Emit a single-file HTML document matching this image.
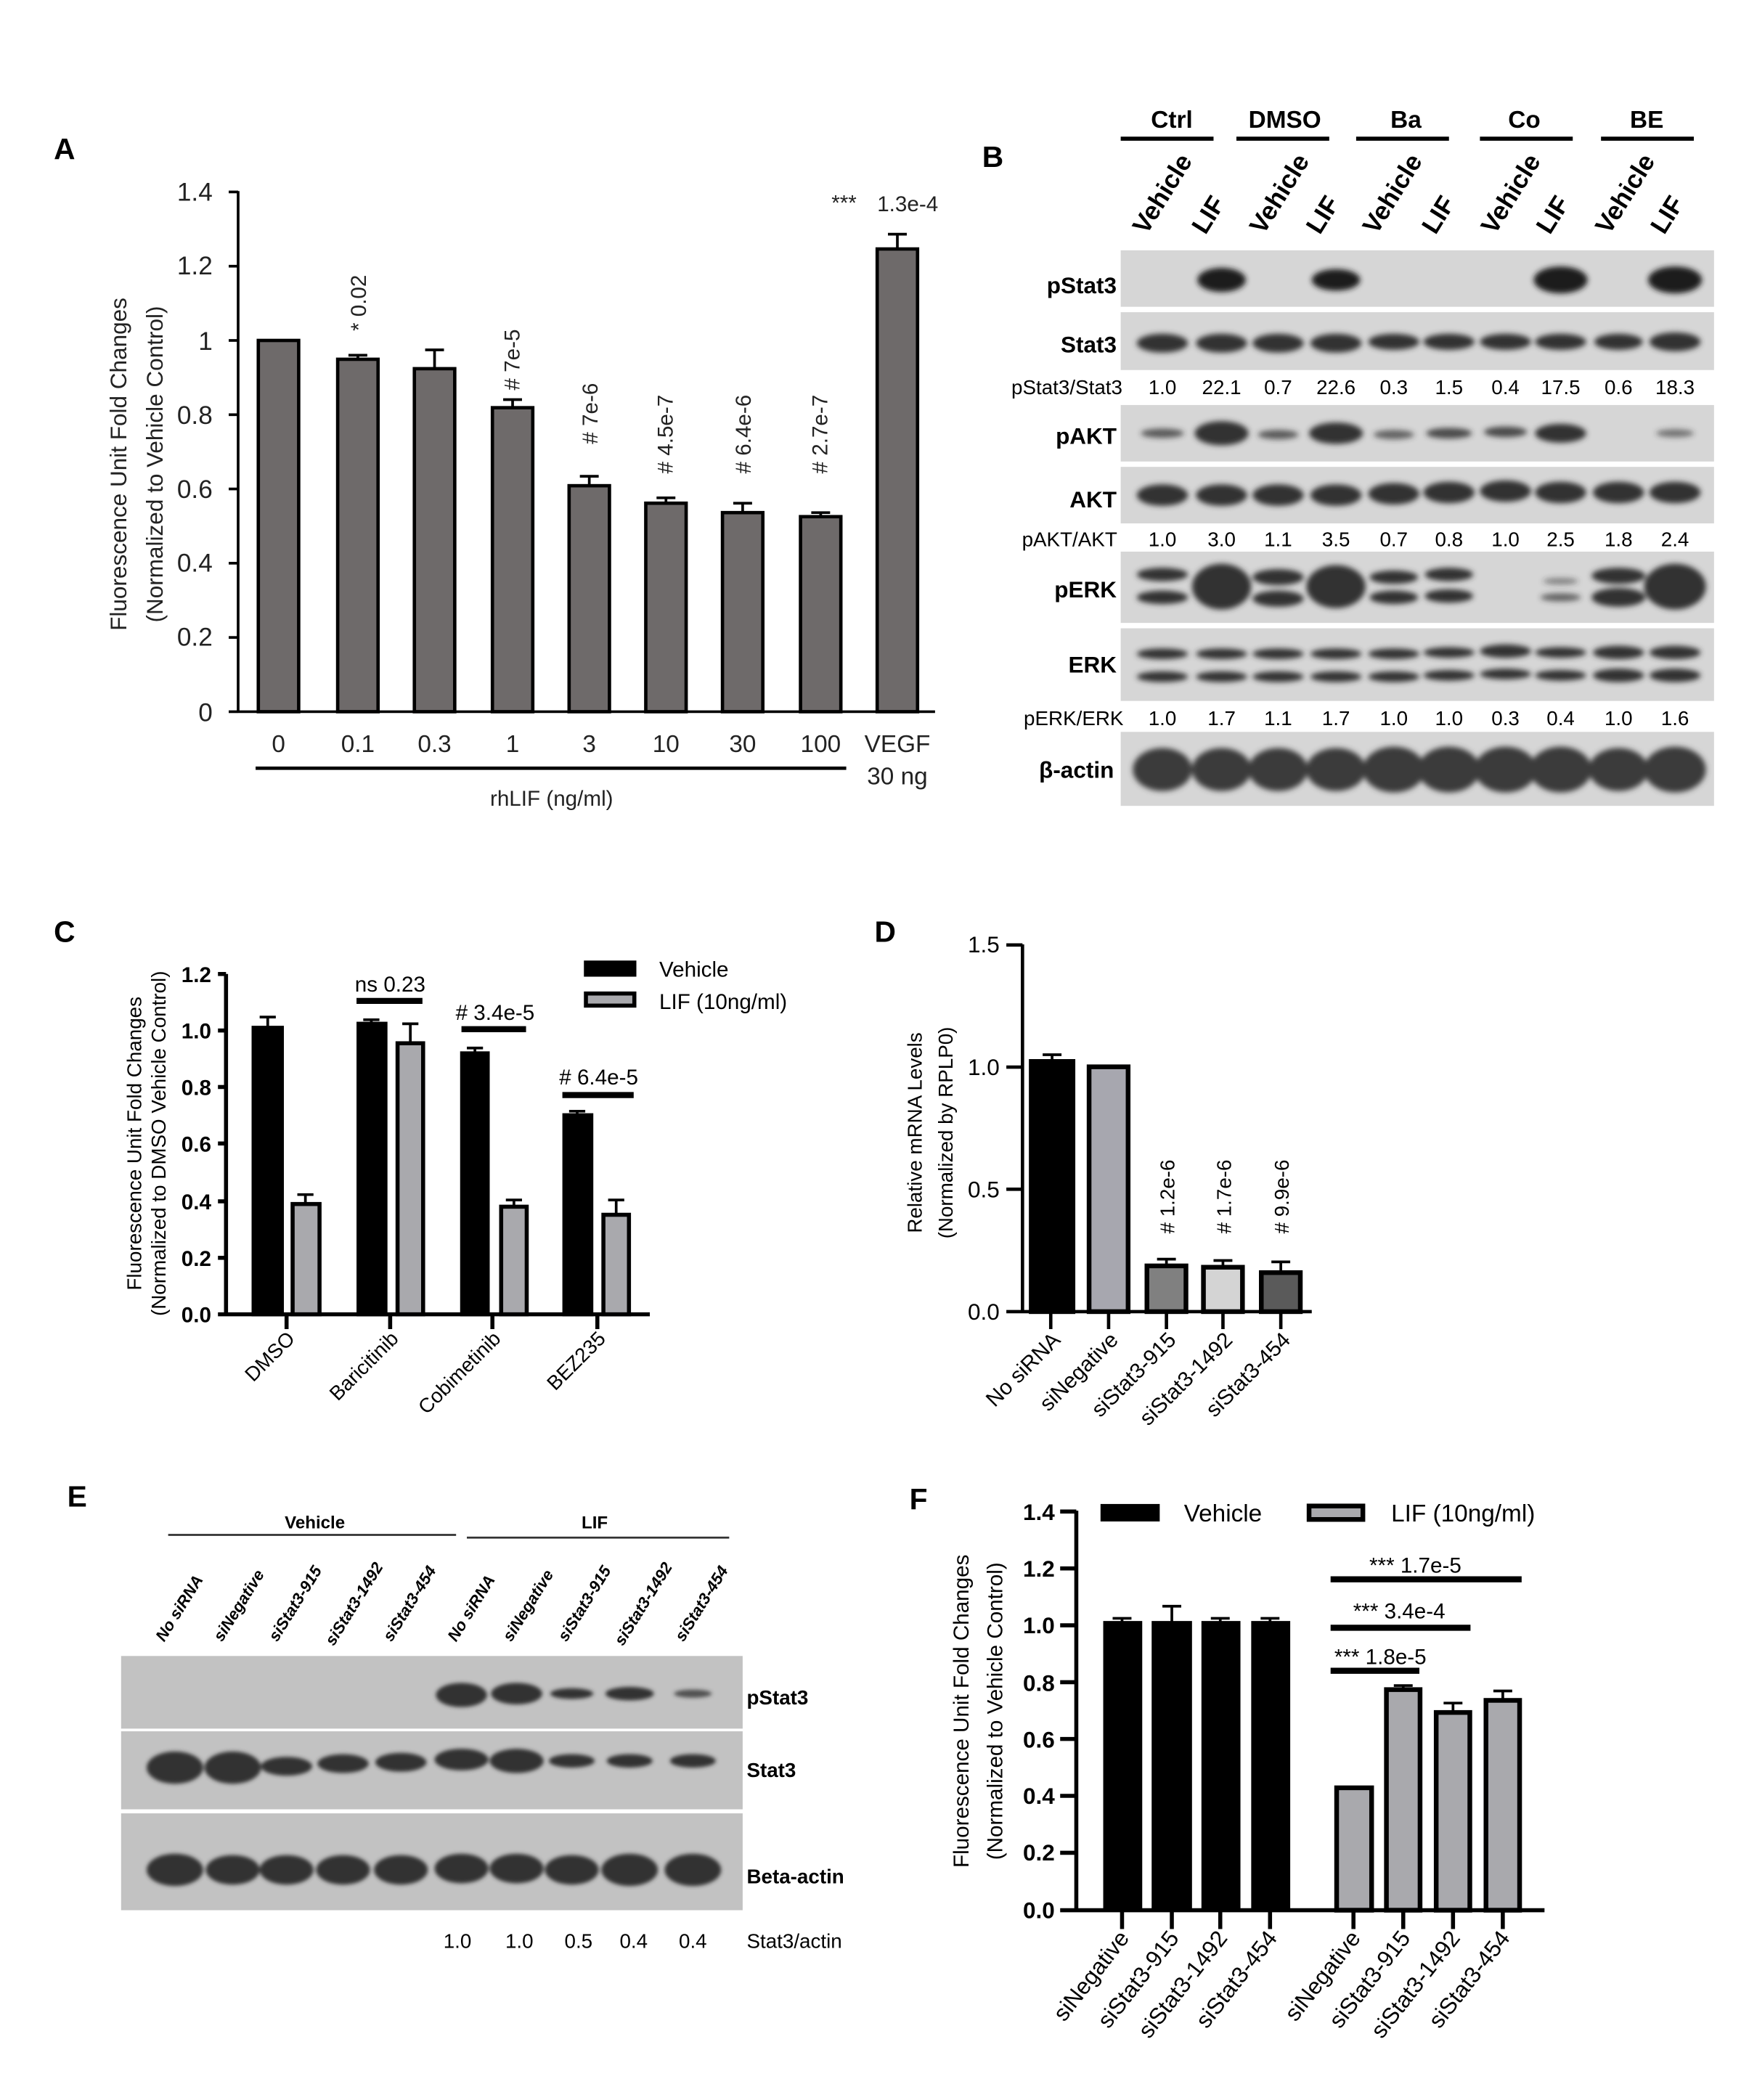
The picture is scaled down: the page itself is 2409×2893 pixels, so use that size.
<!DOCTYPE html>
<html><head><meta charset="utf-8"><style>html,body{margin:0;padding:0;background:#fff}svg{display:block}</style></head>
<body>
<svg width="2409" height="2893" viewBox="0 0 1300 1561" xmlns="http://www.w3.org/2000/svg" font-family="Liberation Sans, Arial, sans-serif">
<defs>
<filter id="bl" x="-30%" y="-60%" width="160%" height="220%"><feGaussianBlur stdDeviation="2"/></filter>
<filter id="bl2" x="-30%" y="-60%" width="160%" height="220%"><feGaussianBlur stdDeviation="1.5"/></filter>
</defs>
<rect width="1300" height="1561" fill="#fff"/>

<!-- ===== Panel A ===== -->
<text x="40" y="118" font-size="22" font-weight="bold">A</text>
<g fill="#222">
<line x1="177" y1="142" x2="177" y2="529" stroke="#000" stroke-width="2"/>
<line x1="177" y1="529" x2="695" y2="529" stroke="#000" stroke-width="2"/>
<g stroke="#000" stroke-width="2">
<line x1="170" y1="142.6" x2="177" y2="142.6"/><line x1="170" y1="197.8" x2="177" y2="197.8"/><line x1="170" y1="253" x2="177" y2="253"/><line x1="170" y1="308.2" x2="177" y2="308.2"/><line x1="170" y1="363.4" x2="177" y2="363.4"/><line x1="170" y1="418.6" x2="177" y2="418.6"/><line x1="170" y1="473.8" x2="177" y2="473.8"/><line x1="170" y1="529" x2="177" y2="529"/>
</g>
<g text-anchor="end" font-size="19">
<text x="158" y="149">1.4</text><text x="158" y="204">1.2</text><text x="158" y="260">1</text><text x="158" y="315">0.8</text><text x="158" y="370">0.6</text><text x="158" y="425">0.4</text><text x="158" y="480">0.2</text><text x="158" y="536">0</text>
</g>
<text transform="translate(94,345) rotate(-90)" text-anchor="middle" font-size="17">Fluorescence Unit Fold Changes</text>
<text transform="translate(121,345) rotate(-90)" text-anchor="middle" font-size="17">(Normalized to Vehicle Control)</text>
<g fill="#6e6a6a" stroke="#000" stroke-width="2.5">
<rect x="192" y="253" width="30" height="276"/>
<rect x="251" y="267" width="30" height="262"/>
<rect x="308" y="274" width="30" height="255"/>
<rect x="366" y="303" width="30" height="226"/>
<rect x="423" y="361" width="30" height="168"/>
<rect x="480" y="374" width="30" height="155"/>
<rect x="537" y="381" width="30" height="148"/>
<rect x="595" y="384" width="30" height="145"/>
<rect x="652" y="185" width="30" height="344"/>
</g>
<g stroke="#000" stroke-width="2">
<line x1="266" y1="267" x2="266" y2="264"/><line x1="259" y1="264" x2="273" y2="264"/>
<line x1="323" y1="274" x2="323" y2="260"/><line x1="316" y1="260" x2="330" y2="260"/>
<line x1="381" y1="303" x2="381" y2="297"/><line x1="374" y1="297" x2="388" y2="297"/>
<line x1="438" y1="361" x2="438" y2="354"/><line x1="431" y1="354" x2="445" y2="354"/>
<line x1="495" y1="374" x2="495" y2="370"/><line x1="488" y1="370" x2="502" y2="370"/>
<line x1="552" y1="381" x2="552" y2="374"/><line x1="545" y1="374" x2="559" y2="374"/>
<line x1="610" y1="384" x2="610" y2="381"/><line x1="603" y1="381" x2="617" y2="381"/>
<line x1="667" y1="185" x2="667" y2="174"/><line x1="660" y1="174" x2="674" y2="174"/>
</g>
<g font-size="16">
<text transform="translate(272,246) rotate(-90)">* 0.02</text>
<text transform="translate(386,290) rotate(-90)">#  7e-5</text>
<text transform="translate(444,330) rotate(-90)">#  7e-6</text>
<text transform="translate(500,352) rotate(-90)"># 4.5e-7</text>
<text transform="translate(558,352) rotate(-90)">#  6.4e-6</text>
<text transform="translate(615,352) rotate(-90)">#  2.7e-7</text>
<text x="618" y="156">***</text><text x="652" y="157">1.3e-4</text>
</g>
<g text-anchor="middle" font-size="18">
<text x="207" y="559">0</text><text x="266" y="559">0.1</text><text x="323" y="559">0.3</text><text x="381" y="559">1</text><text x="438" y="559">3</text><text x="495" y="559">10</text><text x="552" y="559">30</text><text x="610" y="559">100</text><text x="667" y="559">VEGF</text><text x="667" y="583">30 ng</text>
</g>
<line x1="190" y1="571" x2="629" y2="571" stroke="#000" stroke-width="2.5"/>
<text x="410" y="599" text-anchor="middle" font-size="16">rhLIF (ng/ml)</text>
</g>

<!-- ===== Panel B ===== -->
<text x="730" y="124" font-size="22" font-weight="bold">B</text>
<g font-size="18" font-weight="bold" text-anchor="middle">
<text x="871" y="95">Ctrl</text><text x="955" y="95">DMSO</text><text x="1045" y="95">Ba</text><text x="1133" y="95">Co</text><text x="1224" y="95">BE</text>
</g>
<g stroke="#000" stroke-width="3">
<line x1="833" y1="103" x2="902" y2="103"/><line x1="919" y1="103" x2="988" y2="103"/><line x1="1008" y1="103" x2="1077" y2="103"/><line x1="1100" y1="103" x2="1169" y2="103"/><line x1="1190" y1="103" x2="1259" y2="103"/>
</g>
<g font-size="19" font-weight="bold">
<text transform="translate(852,175) rotate(-58)">Vehicle</text><text transform="translate(896,175) rotate(-58)">LIF</text>
<text transform="translate(939,175) rotate(-58)">Vehicle</text><text transform="translate(981,175) rotate(-58)">LIF</text>
<text transform="translate(1023,175) rotate(-58)">Vehicle</text><text transform="translate(1067,175) rotate(-58)">LIF</text>
<text transform="translate(1111,175) rotate(-58)">Vehicle</text><text transform="translate(1152,175) rotate(-58)">LIF</text>
<text transform="translate(1196,175) rotate(-58)">Vehicle</text><text transform="translate(1237,175) rotate(-58)">LIF</text>
</g>
<g fill="#d6d6d6">
<rect x="833" y="186" width="441" height="42"/>
<rect x="833" y="232" width="441" height="43"/>
<rect x="833" y="301" width="441" height="42"/>
<rect x="833" y="347" width="441" height="42"/>
<rect x="833" y="410" width="441" height="53"/>
<rect x="833" y="467" width="441" height="54"/>
<rect x="833" y="544" width="441" height="55"/>
</g>
<g fill="#1c1c1c" filter="url(#bl)">
<ellipse cx="908" cy="208" rx="18" ry="9"/><ellipse cx="993" cy="208" rx="18" ry="8"/><ellipse cx="1160" cy="208" rx="20" ry="10"/><ellipse cx="1245" cy="208" rx="20" ry="10"/>
</g>
<g fill="#333" filter="url(#bl)">
<ellipse cx="864" cy="255" rx="19" ry="7"/><ellipse cx="908" cy="255" rx="19" ry="7"/><ellipse cx="950" cy="255" rx="19" ry="7"/><ellipse cx="993" cy="255" rx="19" ry="7"/><ellipse cx="1036" cy="254" rx="19" ry="6"/><ellipse cx="1077" cy="254" rx="19" ry="6"/><ellipse cx="1119" cy="254" rx="19" ry="6"/><ellipse cx="1160" cy="254" rx="19" ry="6"/><ellipse cx="1203" cy="254" rx="18" ry="6"/><ellipse cx="1245" cy="254" rx="19" ry="7"/>
<ellipse cx="864" cy="322" rx="16" ry="3.5" opacity="0.75"/><ellipse cx="908" cy="322" rx="20" ry="9"/><ellipse cx="950" cy="323" rx="15" ry="3.5" opacity="0.75"/><ellipse cx="993" cy="322" rx="20" ry="8"/><ellipse cx="1036" cy="323" rx="15" ry="3.5" opacity="0.7"/><ellipse cx="1077" cy="322" rx="17" ry="4" opacity="0.85"/><ellipse cx="1119" cy="321" rx="16" ry="4" opacity="0.85"/><ellipse cx="1160" cy="322" rx="19" ry="7"/><ellipse cx="1245" cy="322" rx="14" ry="3" opacity="0.6"/>
<ellipse cx="864" cy="368" rx="19" ry="8"/><ellipse cx="908" cy="368" rx="19" ry="8"/><ellipse cx="950" cy="368" rx="19" ry="8"/><ellipse cx="993" cy="368" rx="19" ry="8"/><ellipse cx="1036" cy="367" rx="19" ry="8"/><ellipse cx="1077" cy="366" rx="19" ry="8"/><ellipse cx="1119" cy="365" rx="19" ry="8"/><ellipse cx="1160" cy="366" rx="19" ry="8"/><ellipse cx="1203" cy="366" rx="19" ry="8"/><ellipse cx="1245" cy="366" rx="19" ry="8"/>
<ellipse cx="864" cy="427" rx="19" ry="5"/><ellipse cx="864" cy="444" rx="19" ry="5"/><ellipse cx="908" cy="436" rx="22" ry="17"/><ellipse cx="950" cy="429" rx="19" ry="6"/><ellipse cx="950" cy="445" rx="19" ry="6"/><ellipse cx="993" cy="436" rx="22" ry="16"/><ellipse cx="1036" cy="429" rx="18" ry="5"/><ellipse cx="1036" cy="444" rx="18" ry="5"/><ellipse cx="1077" cy="427" rx="18" ry="5"/><ellipse cx="1077" cy="443" rx="18" ry="5"/><ellipse cx="1160" cy="432" rx="13" ry="2.5" opacity="0.5"/><ellipse cx="1160" cy="444" rx="15" ry="3" opacity="0.7"/><ellipse cx="1203" cy="428" rx="20" ry="6"/><ellipse cx="1203" cy="444" rx="20" ry="7"/><ellipse cx="1245" cy="436" rx="23" ry="17"/>
<ellipse cx="864" cy="486" rx="19" ry="4"/><ellipse cx="864" cy="503" rx="19" ry="4"/><ellipse cx="908" cy="486" rx="19" ry="4"/><ellipse cx="908" cy="503" rx="19" ry="4"/><ellipse cx="950" cy="486" rx="19" ry="4"/><ellipse cx="950" cy="503" rx="19" ry="4"/><ellipse cx="993" cy="486" rx="19" ry="4"/><ellipse cx="993" cy="503" rx="19" ry="4"/><ellipse cx="1036" cy="486" rx="19" ry="4"/><ellipse cx="1036" cy="503" rx="19" ry="4"/><ellipse cx="1077" cy="485" rx="19" ry="4"/><ellipse cx="1077" cy="502" rx="19" ry="4"/><ellipse cx="1119" cy="484" rx="19" ry="5"/><ellipse cx="1119" cy="501" rx="19" ry="4"/><ellipse cx="1160" cy="485" rx="19" ry="4"/><ellipse cx="1160" cy="502" rx="19" ry="4"/><ellipse cx="1203" cy="485" rx="19" ry="5"/><ellipse cx="1203" cy="502" rx="19" ry="5"/><ellipse cx="1245" cy="485" rx="19" ry="5"/><ellipse cx="1245" cy="502" rx="19" ry="5"/>
</g>
<g fill="#3a3a3a" filter="url(#bl)">
<ellipse cx="864" cy="572" rx="22" ry="16"/><ellipse cx="908" cy="572" rx="22" ry="16"/><ellipse cx="950" cy="572" rx="22" ry="16"/><ellipse cx="993" cy="572" rx="22" ry="16"/><ellipse cx="1036" cy="572" rx="23" ry="17"/><ellipse cx="1077" cy="572" rx="23" ry="17"/><ellipse cx="1119" cy="572" rx="23" ry="17"/><ellipse cx="1160" cy="572" rx="23" ry="17"/><ellipse cx="1203" cy="572" rx="22" ry="16"/><ellipse cx="1245" cy="572" rx="23" ry="17"/>
</g>
<g font-size="17" font-weight="bold" text-anchor="end">
<text x="830" y="218">pStat3</text><text x="830" y="262">Stat3</text><text x="830" y="330">pAKT</text><text x="830" y="377">AKT</text><text x="830" y="444">pERK</text><text x="830" y="500">ERK</text><text x="828" y="578">β-actin</text>
</g>
<g font-size="15" text-anchor="middle">
<text x="793" y="293">pStat3/Stat3</text><text x="864" y="293">1.0</text><text x="908" y="293">22.1</text><text x="950" y="293">0.7</text><text x="993" y="293">22.6</text><text x="1036" y="293">0.3</text><text x="1077" y="293">1.5</text><text x="1119" y="293">0.4</text><text x="1160" y="293">17.5</text><text x="1203" y="293">0.6</text><text x="1245" y="293">18.3</text>
<text x="795" y="406">pAKT/AKT</text><text x="864" y="406">1.0</text><text x="908" y="406">3.0</text><text x="950" y="406">1.1</text><text x="993" y="406">3.5</text><text x="1036" y="406">0.7</text><text x="1077" y="406">0.8</text><text x="1119" y="406">1.0</text><text x="1160" y="406">2.5</text><text x="1203" y="406">1.8</text><text x="1245" y="406">2.4</text>
<text x="798" y="539">pERK/ERK</text><text x="864" y="539">1.0</text><text x="908" y="539">1.7</text><text x="950" y="539">1.1</text><text x="993" y="539">1.7</text><text x="1036" y="539">1.0</text><text x="1077" y="539">1.0</text><text x="1119" y="539">0.3</text><text x="1160" y="539">0.4</text><text x="1203" y="539">1.0</text><text x="1245" y="539">1.6</text>
</g>

<!-- ===== Panel C ===== -->
<text x="40" y="700" font-size="22" font-weight="bold">C</text>
<line x1="168" y1="724" x2="168" y2="977" stroke="#000" stroke-width="3"/>
<line x1="162" y1="977" x2="483" y2="977" stroke="#000" stroke-width="3"/>
<g stroke="#000" stroke-width="3">
<line x1="162" y1="724" x2="168" y2="724"/><line x1="162" y1="766" x2="168" y2="766"/><line x1="162" y1="808" x2="168" y2="808"/><line x1="162" y1="850" x2="168" y2="850"/><line x1="162" y1="893" x2="168" y2="893"/><line x1="162" y1="935" x2="168" y2="935"/>
<line x1="213" y1="977" x2="213" y2="988"/><line x1="290" y1="977" x2="290" y2="988"/><line x1="366" y1="977" x2="366" y2="988"/><line x1="444" y1="977" x2="444" y2="988"/>
</g>
<g font-size="16" font-weight="bold" text-anchor="end">
<text x="157" y="730">1.2</text><text x="157" y="772">1.0</text><text x="157" y="814">0.8</text><text x="157" y="856">0.6</text><text x="157" y="899">0.4</text><text x="157" y="941">0.2</text><text x="157" y="983">0.0</text>
</g>
<text transform="translate(105,850) rotate(-90)" text-anchor="middle" font-size="15">Fluorescence Unit Fold Changes</text>
<text transform="translate(123,850) rotate(-90)" text-anchor="middle" font-size="15">(Normalized to DMSO Vehicle Control)</text>
<g stroke="#000" stroke-width="3">
<rect x="188.5" y="764" width="21" height="213" fill="#000"/>
<rect x="217.5" y="895" width="20" height="82" fill="#a9a9ad"/>
<rect x="266.5" y="761" width="20" height="216" fill="#000"/>
<rect x="295.5" y="775.5" width="19" height="201.5" fill="#a9a9ad"/>
<rect x="343.5" y="783" width="19" height="194" fill="#000"/>
<rect x="372.5" y="897" width="19" height="80" fill="#a9a9ad"/>
<rect x="419.5" y="829" width="20" height="148" fill="#000"/>
<rect x="448.5" y="903" width="19" height="74" fill="#a9a9ad"/>
</g>
<g stroke="#000" stroke-width="2">
<line x1="199" y1="764" x2="199" y2="756"/><line x1="193" y1="756" x2="205" y2="756"/>
<line x1="227" y1="895" x2="227" y2="888"/><line x1="221" y1="888" x2="233" y2="888"/>
<line x1="276" y1="761" x2="276" y2="758"/><line x1="270" y1="758" x2="282" y2="758"/>
<line x1="305" y1="775" x2="305" y2="761"/><line x1="299" y1="761" x2="311" y2="761"/>
<line x1="353" y1="783" x2="353" y2="779"/><line x1="347" y1="779" x2="359" y2="779"/>
<line x1="382" y1="897" x2="382" y2="892"/><line x1="376" y1="892" x2="388" y2="892"/>
<line x1="429" y1="829" x2="429" y2="826"/><line x1="423" y1="826" x2="435" y2="826"/>
<line x1="458" y1="903" x2="458" y2="892"/><line x1="452" y1="892" x2="464" y2="892"/>
</g>
<g stroke="#000" stroke-width="4.5">
<line x1="265" y1="744" x2="314" y2="744"/><line x1="343" y1="765" x2="391" y2="765"/><line x1="418" y1="814" x2="471" y2="814"/>
</g>
<g font-size="16" text-anchor="middle">
<text x="290" y="737">ns 0.23</text><text x="368" y="758"># 3.4e-5</text><text x="445" y="806"># 6.4e-5</text>
</g>
<rect x="434" y="714" width="39" height="12" fill="#000"/>
<rect x="435.5" y="738.5" width="36" height="9" fill="#a9a9ad" stroke="#000" stroke-width="3"/>
<text x="490" y="726" font-size="16">Vehicle</text>
<text x="490" y="750" font-size="16">LIF (10ng/ml)</text>
<g font-size="15" text-anchor="end">
<text transform="translate(220,996) rotate(-45)">DMSO</text>
<text transform="translate(297,996) rotate(-45)">Baricitinib</text>
<text transform="translate(373,996) rotate(-45)">Cobimetinib</text>
<text transform="translate(451,996) rotate(-45)">BEZ235</text>
</g>

<!-- ===== Panel D ===== -->
<text x="650" y="700" font-size="22" font-weight="bold">D</text>
<line x1="760" y1="702" x2="760" y2="975" stroke="#000" stroke-width="2.5"/>
<line x1="748" y1="975" x2="975" y2="975" stroke="#000" stroke-width="2.5"/>
<g stroke="#000" stroke-width="2.5">
<line x1="748" y1="702.4" x2="760" y2="702.4"/><line x1="748" y1="793.2" x2="760" y2="793.2"/><line x1="748" y1="884" x2="760" y2="884"/>
<line x1="781" y1="975" x2="781" y2="988"/><line x1="824" y1="975" x2="824" y2="988"/><line x1="867" y1="975" x2="867" y2="988"/><line x1="909" y1="975" x2="909" y2="988"/><line x1="952" y1="975" x2="952" y2="988"/>
</g>
<g font-size="17" text-anchor="end">
<text x="743" y="708">1.5</text><text x="743" y="799">1.0</text><text x="743" y="890">0.5</text><text x="743" y="981">0.0</text>
</g>
<text transform="translate(685,842) rotate(-90)" text-anchor="middle" font-size="15">Relative mRNA Levels</text>
<text transform="translate(708,842) rotate(-90)" text-anchor="middle" font-size="15">(Normalized by RPLP0)</text>
<g stroke="#000" stroke-width="3.5">
<rect x="766.5" y="789" width="31" height="186" fill="#000"/>
<rect x="809.5" y="793" width="29" height="182" fill="#a7a7af"/>
<rect x="852.5" y="941" width="29" height="34" fill="#808080"/>
<rect x="894.5" y="942" width="29" height="33" fill="#d4d4d4"/>
<rect x="937.5" y="946" width="29" height="29" fill="#5a5a5a"/>
</g>
<g stroke="#000" stroke-width="2">
<line x1="782" y1="789" x2="782" y2="784"/><line x1="775" y1="784" x2="789" y2="784"/>
<line x1="867" y1="941" x2="867" y2="936"/><line x1="860" y1="936" x2="874" y2="936"/>
<line x1="909" y1="942" x2="909" y2="937"/><line x1="902" y1="937" x2="916" y2="937"/>
<line x1="952" y1="946" x2="952" y2="938"/><line x1="945" y1="938" x2="959" y2="938"/>
</g>
<g font-size="15">
<text transform="translate(873,917) rotate(-90)"># 1.2e-6</text>
<text transform="translate(915,917) rotate(-90)"># 1.7e-6</text>
<text transform="translate(958,917) rotate(-90)"># 9.9e-6</text>
</g>
<g font-size="16" text-anchor="end">
<text transform="translate(789,997) rotate(-45)">No siRNA</text>
<text transform="translate(832,997) rotate(-45)">siNegative</text>
<text transform="translate(875,997) rotate(-45)">siStat3-915</text>
<text transform="translate(917,997) rotate(-45)">siStat3-1492</text>
<text transform="translate(960,997) rotate(-45)">siStat3-454</text>
</g>

<!-- ===== Panel E ===== -->
<text x="50" y="1120" font-size="22" font-weight="bold">E</text>
<text x="234" y="1136" font-size="13" font-weight="bold" text-anchor="middle">Vehicle</text>
<text x="442" y="1136" font-size="13" font-weight="bold" text-anchor="middle">LIF</text>
<line x1="125" y1="1141" x2="339" y2="1141" stroke="#333" stroke-width="1.5"/>
<line x1="347" y1="1143" x2="542" y2="1143" stroke="#333" stroke-width="1.5"/>
<g font-size="12" font-weight="bold" font-style="italic">
<text transform="translate(122,1221) rotate(-58)">No siRNA</text>
<text transform="translate(165,1221) rotate(-58)">siNegative</text>
<text transform="translate(206,1221) rotate(-58)">siStat3-915</text>
<text transform="translate(248,1224) rotate(-58)">siStat3-1492</text>
<text transform="translate(291,1221) rotate(-58)">siStat3-454</text>
<text transform="translate(339,1221) rotate(-58)">No siRNA</text>
<text transform="translate(380,1221) rotate(-58)">siNegative</text>
<text transform="translate(421,1221) rotate(-58)">siStat3-915</text>
<text transform="translate(463,1224) rotate(-58)">siStat3-1492</text>
<text transform="translate(508,1221) rotate(-58)">siStat3-454</text>
</g>
<g fill="#c2c2c2">
<rect x="90" y="1231" width="462" height="54"/>
<rect x="90" y="1287" width="462" height="58"/>
<rect x="90" y="1348" width="462" height="72"/>
</g>
<g fill="#333" filter="url(#bl2)">
<ellipse cx="343" cy="1260" rx="19" ry="9"/><ellipse cx="384" cy="1259" rx="19" ry="8"/><ellipse cx="425" cy="1259" rx="16" ry="4"/><ellipse cx="468" cy="1259" rx="18" ry="5"/><ellipse cx="515" cy="1259" rx="14" ry="3" opacity="0.8"/>
<ellipse cx="130" cy="1314" rx="21" ry="12"/><ellipse cx="173" cy="1314" rx="21" ry="12"/><ellipse cx="213" cy="1313" rx="19" ry="7"/><ellipse cx="255" cy="1311" rx="19" ry="7"/><ellipse cx="298" cy="1310" rx="19" ry="7"/><ellipse cx="343" cy="1308" rx="20" ry="8"/><ellipse cx="384" cy="1309" rx="20" ry="9"/><ellipse cx="425" cy="1309" rx="17" ry="5"/><ellipse cx="468" cy="1309" rx="17" ry="5"/><ellipse cx="515" cy="1309" rx="17" ry="5"/>
<ellipse cx="130" cy="1390" rx="21" ry="12"/><ellipse cx="173" cy="1390" rx="20" ry="11"/><ellipse cx="213" cy="1390" rx="20" ry="11"/><ellipse cx="255" cy="1390" rx="20" ry="11"/><ellipse cx="298" cy="1390" rx="20" ry="11"/><ellipse cx="343" cy="1389" rx="20" ry="11"/><ellipse cx="384" cy="1389" rx="20" ry="11"/><ellipse cx="425" cy="1390" rx="20" ry="11"/><ellipse cx="468" cy="1390" rx="21" ry="12"/><ellipse cx="515" cy="1390" rx="21" ry="12"/>
</g>
<g font-size="15" font-weight="bold">
<text x="555" y="1267">pStat3</text><text x="555" y="1321">Stat3</text><text x="555" y="1400">Beta-actin</text>
</g>
<g font-size="15" text-anchor="middle">
<text x="340" y="1448">1.0</text><text x="386" y="1448">1.0</text><text x="430" y="1448">0.5</text><text x="471" y="1448">0.4</text><text x="515" y="1448">0.4</text>
</g>
<text x="555" y="1448" font-size="15">Stat3/actin</text>

<!-- ===== Panel F ===== -->
<text x="676" y="1122" font-size="22" font-weight="bold">F</text>
<line x1="800" y1="1123" x2="800" y2="1420" stroke="#000" stroke-width="3"/>
<line x1="788" y1="1420" x2="1148" y2="1420" stroke="#000" stroke-width="3"/>
<g stroke="#000" stroke-width="3">
<line x1="788" y1="1123.6" x2="800" y2="1123.6"/><line x1="788" y1="1165.9" x2="800" y2="1165.9"/><line x1="788" y1="1208.2" x2="800" y2="1208.2"/><line x1="788" y1="1250.5" x2="800" y2="1250.5"/><line x1="788" y1="1292.7" x2="800" y2="1292.7"/><line x1="788" y1="1335" x2="800" y2="1335"/><line x1="788" y1="1377.3" x2="800" y2="1377.3"/>
<line x1="834" y1="1420" x2="834" y2="1434"/><line x1="871" y1="1420" x2="871" y2="1434"/><line x1="907" y1="1420" x2="907" y2="1434"/><line x1="944" y1="1420" x2="944" y2="1434"/>
<line x1="1006" y1="1420" x2="1006" y2="1434"/><line x1="1043" y1="1420" x2="1043" y2="1434"/><line x1="1080" y1="1420" x2="1080" y2="1434"/><line x1="1117" y1="1420" x2="1117" y2="1434"/>
</g>
<g font-size="17" font-weight="bold" text-anchor="end">
<text x="784" y="1130">1.4</text><text x="784" y="1172">1.2</text><text x="784" y="1214">1.0</text><text x="784" y="1257">0.8</text><text x="784" y="1299">0.6</text><text x="784" y="1341">0.4</text><text x="784" y="1383">0.2</text><text x="784" y="1426">0.0</text>
</g>
<text transform="translate(720,1272) rotate(-90)" text-anchor="middle" font-size="16">Fluorescence Unit Fold Changes</text>
<text transform="translate(745,1272) rotate(-90)" text-anchor="middle" font-size="16">(Normalized to Vehicle Control)</text>
<g stroke="#000" stroke-width="2">
<rect x="821" y="1206" width="27" height="214" fill="#000"/>
<rect x="857" y="1206" width="28" height="214" fill="#000"/>
<rect x="894" y="1206" width="27" height="214" fill="#000"/>
<rect x="931" y="1206" width="27" height="214" fill="#000"/>
</g>
<g stroke="#000" stroke-width="3.5">
<rect x="993.5" y="1329" width="26" height="91" fill="#a9a9ad"/>
<rect x="1030.5" y="1256" width="25" height="164" fill="#a9a9ad"/>
<rect x="1067.5" y="1273" width="25" height="147" fill="#a9a9ad"/>
<rect x="1104.5" y="1264" width="25" height="156" fill="#a9a9ad"/>
</g>
<g stroke="#000" stroke-width="2">
<line x1="834" y1="1206" x2="834" y2="1203"/><line x1="827" y1="1203" x2="841" y2="1203"/>
<line x1="871" y1="1206" x2="871" y2="1194"/><line x1="864" y1="1194" x2="878" y2="1194"/>
<line x1="907" y1="1206" x2="907" y2="1203"/><line x1="900" y1="1203" x2="914" y2="1203"/>
<line x1="944" y1="1206" x2="944" y2="1203"/><line x1="937" y1="1203" x2="951" y2="1203"/>
<line x1="1043" y1="1256" x2="1043" y2="1253"/><line x1="1036" y1="1253" x2="1050" y2="1253"/>
<line x1="1080" y1="1273" x2="1080" y2="1266"/><line x1="1073" y1="1266" x2="1087" y2="1266"/>
<line x1="1117" y1="1264" x2="1117" y2="1257"/><line x1="1110" y1="1257" x2="1124" y2="1257"/>
</g>
<g stroke="#000" stroke-width="4.5">
<line x1="989" y1="1174" x2="1131" y2="1174"/><line x1="989" y1="1210" x2="1093" y2="1210"/><line x1="989" y1="1242" x2="1055" y2="1242"/>
</g>
<g font-size="16" text-anchor="middle">
<text x="1052" y="1169">*** 1.7e-5</text><text x="1040" y="1203">*** 3.4e-4</text><text x="1026" y="1237">*** 1.8e-5</text>
</g>
<rect x="818" y="1118" width="44" height="13" fill="#000"/>
<rect x="973" y="1119.5" width="40" height="10" fill="#a9a9ad" stroke="#000" stroke-width="3.5"/>
<text x="880" y="1131" font-size="18">Vehicle</text>
<text x="1034" y="1131" font-size="18">LIF (10ng/ml)</text>
<g font-size="17" text-anchor="end">
<text transform="translate(840,1441) rotate(-52)">siNegative</text>
<text transform="translate(877,1441) rotate(-52)">siStat3-915</text>
<text transform="translate(913,1441) rotate(-52)">siStat3-1492</text>
<text transform="translate(950,1441) rotate(-52)">siStat3-454</text>
<text transform="translate(1012,1441) rotate(-52)">siNegative</text>
<text transform="translate(1049,1441) rotate(-52)">siStat3-915</text>
<text transform="translate(1086,1441) rotate(-52)">siStat3-1492</text>
<text transform="translate(1123,1441) rotate(-52)">siStat3-454</text>
</g>
</svg>
</body></html>
